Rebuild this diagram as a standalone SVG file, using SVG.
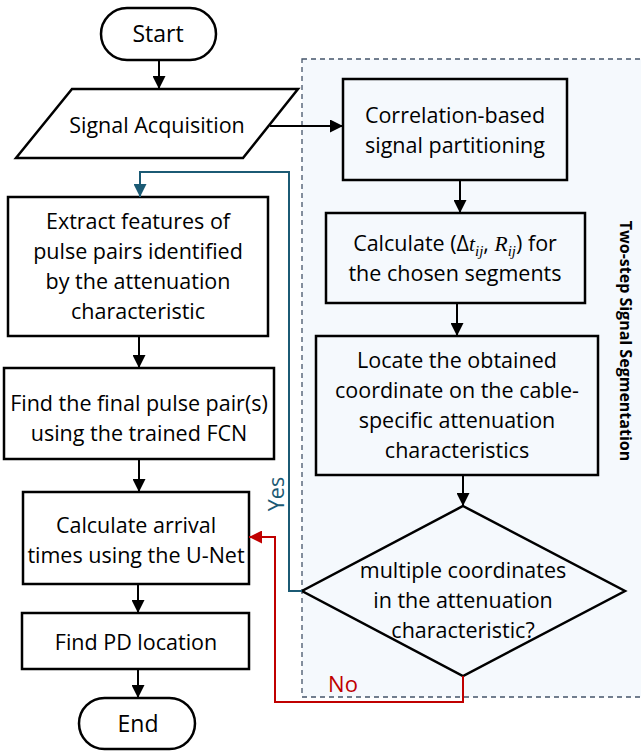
<svg xmlns="http://www.w3.org/2000/svg" width="641" height="753" viewBox="0 0 641 753">
<defs>
<marker id="ab" viewBox="0 0 10 10" refX="10" refY="5" markerWidth="6.5" markerHeight="6.5" orient="auto" markerUnits="strokeWidth"><path d="M0,0 L10,5 L0,10 z" fill="#000"/></marker>
<marker id="at" viewBox="0 0 10 10" refX="10" refY="5" markerWidth="6.5" markerHeight="6.5" orient="auto" markerUnits="strokeWidth"><path d="M0,0 L10,5 L0,10 z" fill="#1b5a74"/></marker>
<marker id="ar" viewBox="0 0 10 10" refX="10" refY="5" markerWidth="6.5" markerHeight="6.5" orient="auto" markerUnits="strokeWidth"><path d="M0,0 L10,5 L0,10 z" fill="#c00000"/></marker>
</defs>
<style>
.n{fill:#fff;stroke:#000;stroke-width:2.5}
.ni{fill:#f5f9fd;stroke:#000;stroke-width:2.5}
.t{font-family:"Open Sans","Noto Sans",sans-serif;font-size:21.5px;fill:#000;text-anchor:middle}
.c{fill:none;stroke:#000;stroke-width:2}
.m{font-family:"Liberation Serif",serif;font-style:italic}
</style>
<rect id="group" x="302" y="59" width="345" height="638" fill="#f5f9fd" stroke="#44546a" stroke-width="1.3" stroke-dasharray="5,4"/>
<text x="624" y="341" transform="rotate(90 624 341)" style="font-family:'Open Sans','Noto Sans',sans-serif;font-size:16px;font-weight:bold;text-anchor:middle;dominant-baseline:middle">Two-step Signal Segmentation</text>
<g id="start"><rect class="n" x="101" y="8" width="115" height="52" rx="26"/><text class="t" x="158" y="42" style="font-size:23px">Start</text></g>
<g id="acq"><polygon class="n" points="72,89 298,89 243,158 16,158"/><text class="t" x="157" y="133">Signal Acquisition</text></g>
<g id="corr"><rect class="ni" x="343" y="79" width="224" height="101"/><text class="t" x="455" y="123">Correlation-based</text><text class="t" x="455" y="153">signal partitioning</text></g>
<g id="calc"><rect class="ni" x="326" y="213" width="259" height="90"/><text class="t" x="455" y="251">Calculate (Δ<tspan class="m">t</tspan><tspan class="m" font-size="15" dy="5">ij</tspan><tspan dy="-5">, </tspan><tspan class="m">R</tspan><tspan class="m" font-size="15" dy="5">ij</tspan><tspan dy="-5">) for</tspan></text><text class="t" x="455" y="281">the chosen segments</text></g>
<g id="locate"><rect class="ni" x="316" y="336" width="282" height="139"/><text class="t" x="457" y="368">Locate the obtained</text><text class="t" x="457" y="398">coordinate on the cable-</text><text class="t" x="457" y="428">specific attenuation</text><text class="t" x="457" y="458">characteristics</text></g>
<g id="decision"><polygon class="ni" points="463,506 625,591 463,676 302,591"/><text class="t" x="463" y="578">multiple coordinates</text><text class="t" x="463" y="608">in the attenuation</text><text class="t" x="463" y="638">characteristic?</text></g>
<g id="extract"><rect class="n" x="8" y="197" width="260" height="139"/><text class="t" x="138" y="229">Extract features of</text><text class="t" x="138" y="259">pulse pairs identified</text><text class="t" x="138" y="289">by the attenuation</text><text class="t" x="138" y="319">characteristic</text></g>
<g id="final"><rect class="n" x="4" y="368" width="270" height="91"/><text class="t" x="139" y="411">Find the final pulse pair(s)</text><text class="t" x="139" y="441">using the trained FCN</text></g>
<g id="arrival"><rect class="n" x="23" y="492" width="226" height="92"/><text class="t" x="136" y="533">Calculate arrival</text><text class="t" x="136" y="563">times using the U-Net</text></g>
<g id="pd"><rect class="n" x="22" y="613" width="227" height="56"/><text class="t" x="136" y="650">Find PD location</text></g>
<g id="end"><rect class="n" x="79" y="698" width="116" height="51" rx="25.5"/><text class="t" x="138" y="732" style="font-size:23px">End</text></g>
<g id="connectors">
<line class="c" x1="159" y1="60" x2="159" y2="89" marker-end="url(#ab)"/>
<line class="c" x1="270" y1="126" x2="343" y2="126" marker-end="url(#ab)"/>
<line class="c" x1="460" y1="180" x2="460" y2="213" marker-end="url(#ab)"/>
<line class="c" x1="457" y1="303" x2="457" y2="336" marker-end="url(#ab)"/>
<line class="c" x1="463" y1="475" x2="463" y2="506" marker-end="url(#ab)"/>
<line class="c" x1="139" y1="336" x2="139" y2="368" marker-end="url(#ab)"/>
<line class="c" x1="139" y1="459" x2="139" y2="492" marker-end="url(#ab)"/>
<line class="c" x1="138" y1="584" x2="138" y2="613" marker-end="url(#ab)"/>
<line class="c" x1="138" y1="669" x2="138" y2="698" marker-end="url(#ab)"/>
<polyline fill="none" stroke="#1b5a74" stroke-width="2" points="302,591 289,591 289,172 140,172 140,197" marker-end="url(#at)"/>
<polyline fill="none" stroke="#c00000" stroke-width="2" points="463,676 463,702 275,702 275,537 249,537" marker-end="url(#ar)"/>
<text x="278" y="494" transform="rotate(-90 278 494)" style="font-family:'Open Sans','Noto Sans',sans-serif;font-size:21.5px;fill:#1b5a74;text-anchor:middle;dominant-baseline:middle">Yes</text>
<text x="343" y="692" style="font-family:'Open Sans','Noto Sans',sans-serif;font-size:22px;fill:#c00000;text-anchor:middle">No</text>
</g>
</svg>
